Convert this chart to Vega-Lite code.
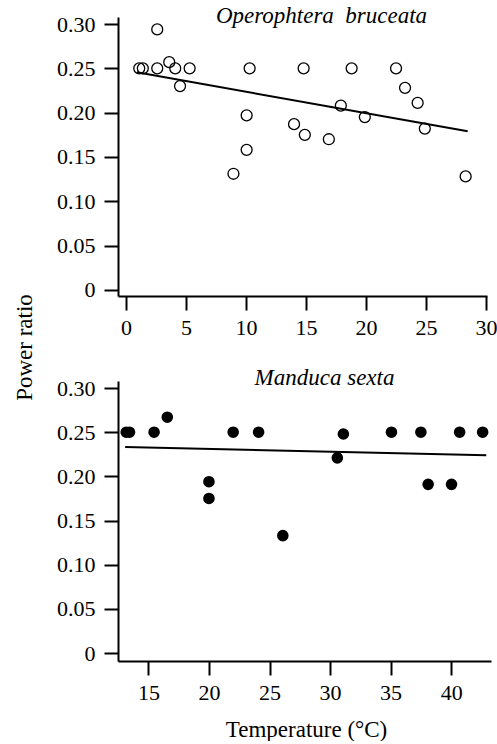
{
  "$schema": "https://vega.github.io/schema/vega-lite/v6.json",
  "padding": {"left": 13, "top": 5, "right": 0, "bottom": 0},
  "background": "white",
  "bounds": "flush",
  "spacing": 85,
  "datasets": {
    "bruceata": [
      {"temp": 1.1, "ratio": 0.25}, {"temp": 1.4, "ratio": 0.25}, {"temp": 2.6, "ratio": 0.294},
      {"temp": 2.6, "ratio": 0.25}, {"temp": 3.6, "ratio": 0.257}, {"temp": 4.1, "ratio": 0.25},
      {"temp": 4.5, "ratio": 0.23}, {"temp": 5.3, "ratio": 0.25}, {"temp": 8.95, "ratio": 0.131},
      {"temp": 10.05, "ratio": 0.197}, {"temp": 10.05, "ratio": 0.158}, {"temp": 10.3, "ratio": 0.25},
      {"temp": 14.0, "ratio": 0.187}, {"temp": 14.9, "ratio": 0.175}, {"temp": 14.8, "ratio": 0.25},
      {"temp": 16.9, "ratio": 0.17}, {"temp": 17.9, "ratio": 0.208}, {"temp": 18.8, "ratio": 0.25},
      {"temp": 19.9, "ratio": 0.195}, {"temp": 22.5, "ratio": 0.25}, {"temp": 23.25, "ratio": 0.228},
      {"temp": 24.3, "ratio": 0.211}, {"temp": 24.9, "ratio": 0.182}, {"temp": 28.3, "ratio": 0.128}
    ],
    "bruceataFit": [
      {"temp": 0.9, "ratio": 0.2455}, {"temp": 28.47, "ratio": 0.179}
    ],
    "sexta": [
      {"temp": 13.17, "ratio": 0.25}, {"temp": 13.44, "ratio": 0.25}, {"temp": 15.47, "ratio": 0.25},
      {"temp": 16.56, "ratio": 0.267}, {"temp": 20.0, "ratio": 0.194}, {"temp": 20.0, "ratio": 0.175},
      {"temp": 22.0, "ratio": 0.25}, {"temp": 24.1, "ratio": 0.25}, {"temp": 26.1, "ratio": 0.133},
      {"temp": 30.6, "ratio": 0.221}, {"temp": 31.1, "ratio": 0.248}, {"temp": 35.07, "ratio": 0.25},
      {"temp": 37.5, "ratio": 0.25}, {"temp": 38.1, "ratio": 0.191}, {"temp": 40.03, "ratio": 0.191},
      {"temp": 40.7, "ratio": 0.25}, {"temp": 42.6, "ratio": 0.25}
    ],
    "sextaFit": [
      {"temp": 13.08, "ratio": 0.2333}, {"temp": 42.9, "ratio": 0.2238}
    ]
  },
  "vconcat": [
    {
      "width": 369,
      "height": 279,
      "title": {
        "text": "Operophtera\u00a0 bruceata",
        "font": "Liberation Serif",
        "fontStyle": "italic",
        "fontWeight": "normal",
        "fontSize": 23,
        "color": "black",
        "frame": "group",
        "anchor": "middle",
        "baseline": "alphabetic",
        "offset": -33,
        "dx": 19
      },
      "layer": [
        {
          "data": {"name": "bruceata"},
          "mark": {"type": "point", "shape": "circle", "filled": false, "stroke": "black", "strokeWidth": 1.3, "size": 120, "opacity": 1},
          "encoding": {
            "x": {"field": "temp", "type": "quantitative",
              "scale": {"domain": [-0.67, 30.08], "nice": false, "zero": false},
              "axis": {"values": [0, 5, 10, 15, 20, 25, 30], "title": null,
                "labelFont": "Liberation Serif", "labelFontSize": 22, "labelColor": "black", "labelPadding": 7, "labelFlush": false,
                "domainColor": "black", "domainWidth": 2, "tickColor": "black", "tickWidth": 2, "tickSize": 14, "grid": false}},
            "y": {"field": "ratio", "type": "quantitative",
              "scale": {"domain": [-0.007, 0.308], "nice": false, "zero": false},
              "axis": {"values": [0, 0.05, 0.1, 0.15, 0.2, 0.25, 0.3],
                "labelExpr": "datum.value == 0 ? '0' : format(datum.value, '.2f')",
                "labelFont": "Liberation Serif", "labelFontSize": 22, "labelColor": "black", "labelPadding": 9,
                "domainColor": "black", "domainWidth": 2, "tickColor": "black", "tickWidth": 2, "tickSize": 14, "grid": false,
                "title": "Power ratio", "titleFont": "Liberation Serif", "titleFontSize": 23, "titleFontWeight": "normal", "titleColor": "black",
                "titleAngle": -90, "titleAlign": "center",
                "titleBaseline": "alphabetic", "titleX": -87, "titleY": 330}}
          }
        },
        {
          "data": {"name": "bruceataFit"},
          "mark": {"type": "line", "color": "black", "strokeWidth": 2},
          "encoding": {
            "x": {"field": "temp", "type": "quantitative"},
            "y": {"field": "ratio", "type": "quantitative"}
          }
        }
      ]
    },
    {
      "width": 373,
      "height": 280,
      "title": {
        "text": "Manduca sexta",
        "font": "Liberation Serif",
        "fontStyle": "italic",
        "fontWeight": "normal",
        "fontSize": 23,
        "color": "black",
        "frame": "group",
        "anchor": "middle",
        "baseline": "alphabetic",
        "offset": -31,
        "dx": 20
      },
      "layer": [
        {
          "data": {"name": "sexta"},
          "mark": {"type": "point", "shape": "circle", "filled": true, "color": "black", "size": 135, "opacity": 1},
          "encoding": {
            "x": {"field": "temp", "type": "quantitative",
              "scale": {"domain": [12.49, 43.29], "nice": false, "zero": false},
              "axis": {"values": [15, 20, 25, 30, 35, 40],
                "labelFont": "Liberation Serif", "labelFontSize": 22, "labelColor": "black", "labelPadding": 7, "labelFlush": false,
                "domainColor": "black", "domainWidth": 2, "tickColor": "black", "tickWidth": 2, "tickSize": 14, "grid": false,
                "title": "Temperature (°C)", "titleFont": "Liberation Serif", "titleFontSize": 23, "titleFontWeight": "normal", "titleColor": "black",
                "titleBaseline": "alphabetic", "titleY": 75, "titleX": 188, "titleAlign": "center"}},
            "y": {"field": "ratio", "type": "quantitative",
              "scale": {"domain": [-0.009, 0.308], "nice": false, "zero": false},
              "axis": {"values": [0, 0.05, 0.1, 0.15, 0.2, 0.25, 0.3],
                "labelExpr": "datum.value == 0 ? '0' : format(datum.value, '.2f')",
                "labelFont": "Liberation Serif", "labelFontSize": 22, "labelColor": "black", "labelPadding": 9,
                "domainColor": "black", "domainWidth": 2, "tickColor": "black", "tickWidth": 2, "tickSize": 14, "grid": false,
                "title": null}}
          }
        },
        {
          "data": {"name": "sextaFit"},
          "mark": {"type": "line", "color": "black", "strokeWidth": 2},
          "encoding": {
            "x": {"field": "temp", "type": "quantitative"},
            "y": {"field": "ratio", "type": "quantitative"}
          }
        }
      ]
    }
  ],
  "resolve": {"scale": {"x": "independent", "y": "independent"}},
  "config": {
    "font": "Liberation Serif",
    "view": {"stroke": null},
    "style": {"guide-label": {"font": "Liberation Serif", "fontSize": 22, "fill": "black"}},
    "axis": {
      "grid": false,
      "domainColor": "black",
      "domainWidth": 2,
      "tickColor": "black",
      "tickWidth": 2,
      "tickSize": 14,
      "labelFont": "Liberation Serif",
      "labelFontSize": 22,
      "labelColor": "black",
      "titleFont": "Liberation Serif",
      "titleFontSize": 23,
      "titleFontWeight": "normal",
      "titleColor": "black"
    }
  }
}
